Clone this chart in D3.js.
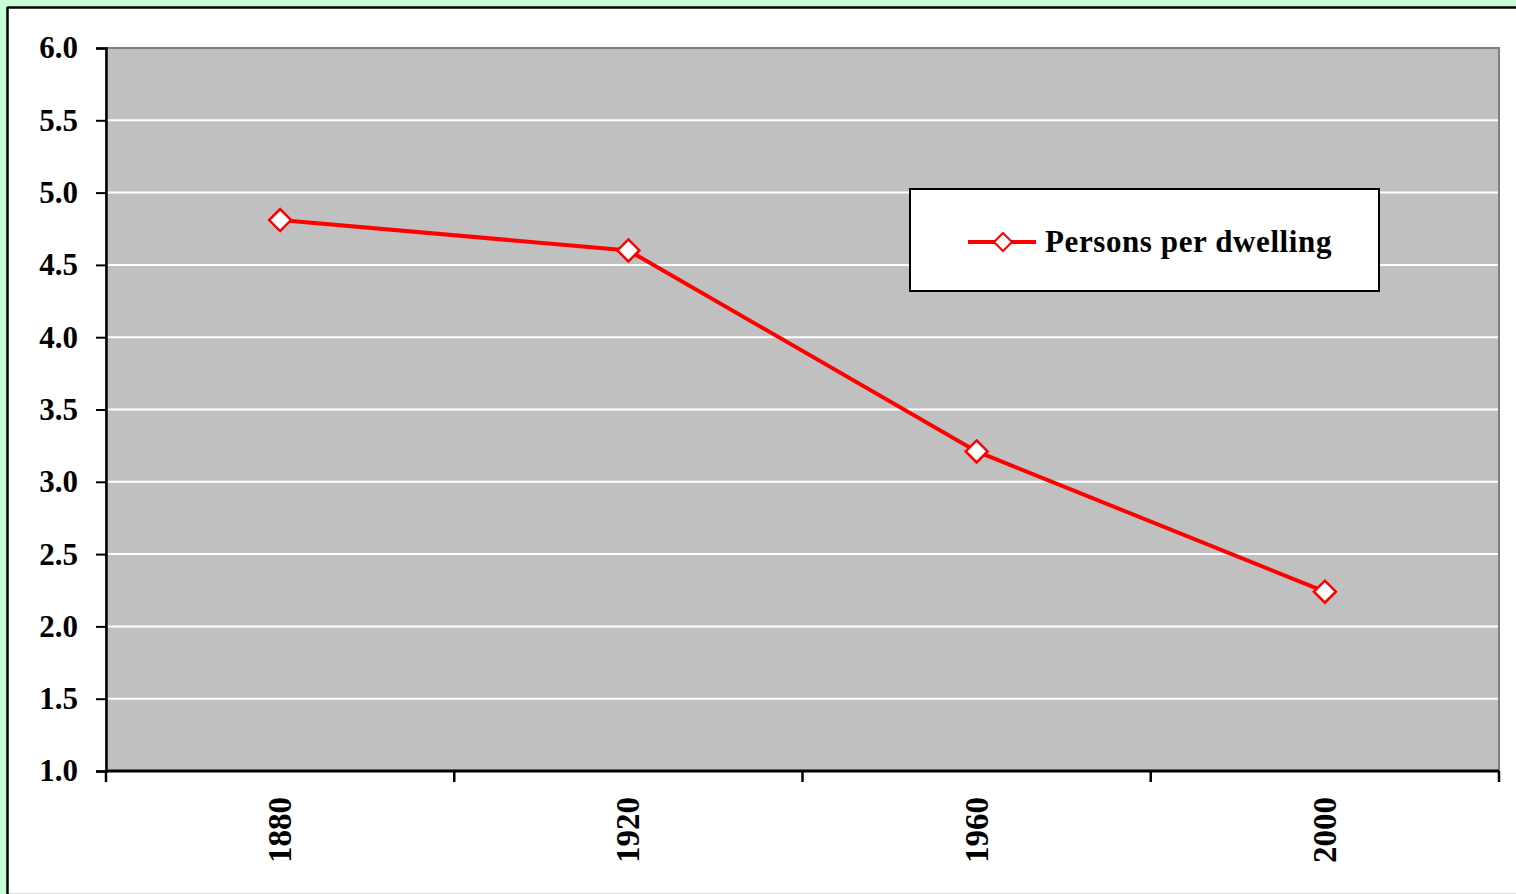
<!DOCTYPE html>
<html>
<head>
<meta charset="utf-8">
<script src="https://cdn.jsdelivr.net/npm/d3@7"></script>
<style>
  html, body { margin: 0; padding: 0; background: #c6fcd6; overflow: hidden; }
  svg { display: block; }
  text { font-family: "Liberation Serif", "Times New Roman", serif; font-weight: bold; }
</style>
</head>
<body>
<div id="chart"></div>
<script>
// chart data
var years = ["1880", "1920", "1960", "2000"];
var persons = [4.81, 4.60, 3.21, 2.24];
var yTicks = [1.0, 1.5, 2.0, 2.5, 3.0, 3.5, 4.0, 4.5, 5.0, 5.5, 6.0];
var seriesName = "Persons per dwelling";

var W = 1516, H = 894;
var margin = { left: 106, right: 17, top: 48, bottom: 123 };
var plotW = W - margin.left - margin.right,
    plotH = H - margin.top - margin.bottom;

var svg = d3.select("#chart").append("svg")
  .attr("width", W)
  .attr("height", H);

// white frame with black border on top/left
svg.append("rect")
  .attr("x", 7).attr("y", 7)
  .attr("width", W).attr("height", H)
  .attr("fill", "#fff");
svg.append("line")
  .attr("x1", 7).attr("x2", W).attr("y1", 7.5).attr("y2", 7.5)
  .attr("stroke", "#000").attr("stroke-width", 2.5);
svg.append("line")
  .attr("x1", 7.5).attr("x2", 7.5).attr("y1", 7).attr("y2", H)
  .attr("stroke", "#000").attr("stroke-width", 2.5);
svg.append("line")
  .attr("x1", 9).attr("x2", W).attr("y1", H - 0.5).attr("y2", H - 0.5)
  .attr("stroke", "#ddd").attr("stroke-width", 1);

var x = d3.scaleBand().domain(years).range([0, plotW]);
var y = d3.scaleLinear().domain([1, 6]).range([plotH, 0]);

var g = svg.append("g").attr("transform", "translate(" + margin.left + "," + margin.top + ")");

// plot background
g.append("rect")
  .attr("width", plotW).attr("height", plotH)
  .attr("fill", "#c0c0c0")
  .attr("stroke", "#808080").attr("stroke-width", 2);

// gridlines
g.selectAll(".grid")
  .data(yTicks.filter(function(d) { return d > 1 && d < 6; }))
  .enter().append("line")
  .attr("class", "grid")
  .attr("x1", 1).attr("x2", plotW - 1)
  .attr("y1", function(d) { return y(d); })
  .attr("y2", function(d) { return y(d); })
  .attr("stroke", "#fff").attr("stroke-width", 2);

// y axis
var yAxis = g.append("g")
  .call(d3.axisLeft(y).tickValues(yTicks).tickFormat(d3.format(".1f")).tickSize(10).tickPadding(18));
yAxis.select(".domain").attr("stroke", "#000").attr("stroke-width", 2.5);
yAxis.selectAll(".tick line").attr("stroke", "#000").attr("stroke-width", 2);
yAxis.selectAll(".tick text")
  .attr("font-size", 31).attr("fill", "#000")
  .attr("font-family", "Liberation Serif, Times New Roman, serif")
  .attr("font-weight", "bold");

// x axis: ticks at band edges
var xg = g.append("g").attr("transform", "translate(0," + plotH + ")");
xg.append("line")
  .attr("x1", 0).attr("x2", plotW)
  .attr("stroke", "#000").attr("stroke-width", 3);
var edges = years.map(function(d) { return x(d); }).concat([plotW]);
xg.selectAll(".xtick").data(edges).enter().append("line")
  .attr("class", "xtick")
  .attr("x1", function(d) { return d; }).attr("x2", function(d) { return d; })
  .attr("y1", 0).attr("y2", 11)
  .attr("stroke", "#000").attr("stroke-width", 2.5);
xg.selectAll(".xlabel").data(years).enter().append("text")
  .attr("class", "xlabel")
  .attr("transform", function(d) {
    return "translate(" + (x(d) + x.bandwidth() / 2 + 11) + ",26) rotate(-90)";
  })
  .attr("text-anchor", "end")
  .attr("font-size", 33)
  .attr("fill", "#000")
  .text(function(d) { return d; });

// line
var line = d3.line()
  .x(function(d, i) { return x(years[i]) + x.bandwidth() / 2; })
  .y(function(d) { return y(d); });
g.append("path")
  .datum(persons)
  .attr("d", line)
  .attr("fill", "none")
  .attr("stroke", "#ff0000")
  .attr("stroke-width", 4);

var diamond = "M0,-11L11,0L0,11L-11,0Z";
g.selectAll(".marker").data(persons).enter().append("path")
  .attr("class", "marker")
  .attr("d", diamond)
  .attr("transform", function(d, i) {
    return "translate(" + (x(years[i]) + x.bandwidth() / 2) + "," + y(d) + ")";
  })
  .attr("fill", "#fff")
  .attr("stroke", "#ff0000")
  .attr("stroke-width", 2.5);

// legend
var lg = svg.append("g").attr("transform", "translate(910,189)");
lg.append("rect")
  .attr("width", 469).attr("height", 102)
  .attr("fill", "#fff").attr("stroke", "#000").attr("stroke-width", 2);
lg.append("line")
  .attr("x1", 58).attr("x2", 126).attr("y1", 53).attr("y2", 53)
  .attr("stroke", "#ff0000").attr("stroke-width", 4);
lg.append("path")
  .attr("d", "M0,-9L9,0L0,9L-9,0Z")
  .attr("transform", "translate(93,53)")
  .attr("fill", "#fff").attr("stroke", "#ff0000").attr("stroke-width", 2);
lg.append("text")
  .attr("x", 135).attr("y", 63)
  .attr("font-size", 31)
  .attr("letter-spacing", 0.6)
  .attr("fill", "#000")
  .text(seriesName);
</script>
</body>
</html>
